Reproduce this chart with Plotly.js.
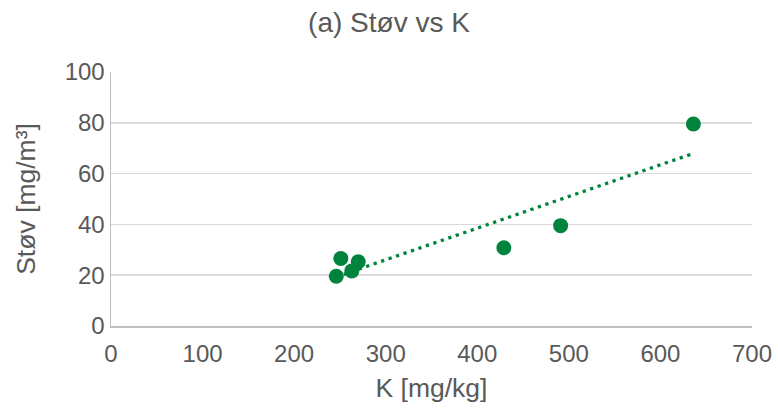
<!DOCTYPE html>
<html>
<head>
<meta charset="utf-8">
<script src="https://cdn.plot.ly/plotly-3.0.1.min.js"></script>
<style>html,body{margin:0;padding:0;background:#fff;}#chart{width:778px;height:409px;}</style>
</head>
<body>
<div id="chart"></div>
<script>
const kValues = [246, 251, 263, 270, 429, 491, 636];
const stovValues = [19.6, 26.6, 21.7, 25.3, 30.8, 39.5, 79.5];
const xTicks = [0, 100, 200, 300, 400, 500, 600, 700];
const yTicks = [0, 20, 40, 60, 80, 100];

// linear least squares trendline (as Excel's linear trendline)
const n = kValues.length;
const mx = kValues.reduce((a, b) => a + b, 0) / n;
const my = stovValues.reduce((a, b) => a + b, 0) / n;
let sxy = 0, sxx = 0;
for (let i = 0; i < n; i++) { sxy += (kValues[i] - mx) * (stovValues[i] - my); sxx += (kValues[i] - mx) ** 2; }
const slope = sxy / sxx, intercept = my - slope * mx;
const trendX = [Math.min(...kValues), Math.max(...kValues)];
const trendY = trendX.map(x => intercept + slope * x);

const green = 'rgb(0,132,61)';
const txt = '#595959';
const font = 'Liberation Sans, Arial, sans-serif';

const data = [
  { x: trendX, y: trendY, mode: 'lines', line: { color: green, width: 3.3, dash: '3.3px,4.6px' }, hoverinfo: 'skip', showlegend: false },
  { x: kValues, y: stovValues, mode: 'markers', marker: { color: green, size: 15 }, showlegend: false }
];

const layout = {
  width: 778, height: 409,
  margin: { l: 111, r: 26, t: 72, b: 83 },
  paper_bgcolor: '#fff', plot_bgcolor: '#fff',
  font: { family: font, color: txt },
  title: { text: '(a) Støv vs K', font: { size: 28, color: txt, family: font }, x: 0.5, xanchor: 'center', y: 0.945, yanchor: 'middle' },
  xaxis: {
    range: [0, 700], tickvals: xTicks, ticktext: xTicks.map(String),
    showgrid: false, zeroline: false, showline: true, linecolor: '#bfbfbf', linewidth: 1.5,
    ticks: '', tickfont: { size: 24, color: txt }, ticklabelstandoff: 6,
    title: { text: 'K [mg/kg]', font: { size: 26.5, color: txt }, standoff: 12 }
  },
  yaxis: {
    range: [0, 100], tickvals: yTicks, ticktext: yTicks.map(String),
    showgrid: true, gridcolor: '#d9d9d9', gridwidth: 1.5,
    zeroline: false, showline: true, linecolor: '#bfbfbf', linewidth: 1.5,
    ticks: '', tickfont: { size: 24, color: txt },
    title: { text: 'Støv [mg/m³]', font: { size: 26.5, color: txt }, standoff: 21 }
  }
};

Plotly.newPlot('chart', data, layout, { displayModeBar: false, staticPlot: true });
</script>
</body>
</html>
